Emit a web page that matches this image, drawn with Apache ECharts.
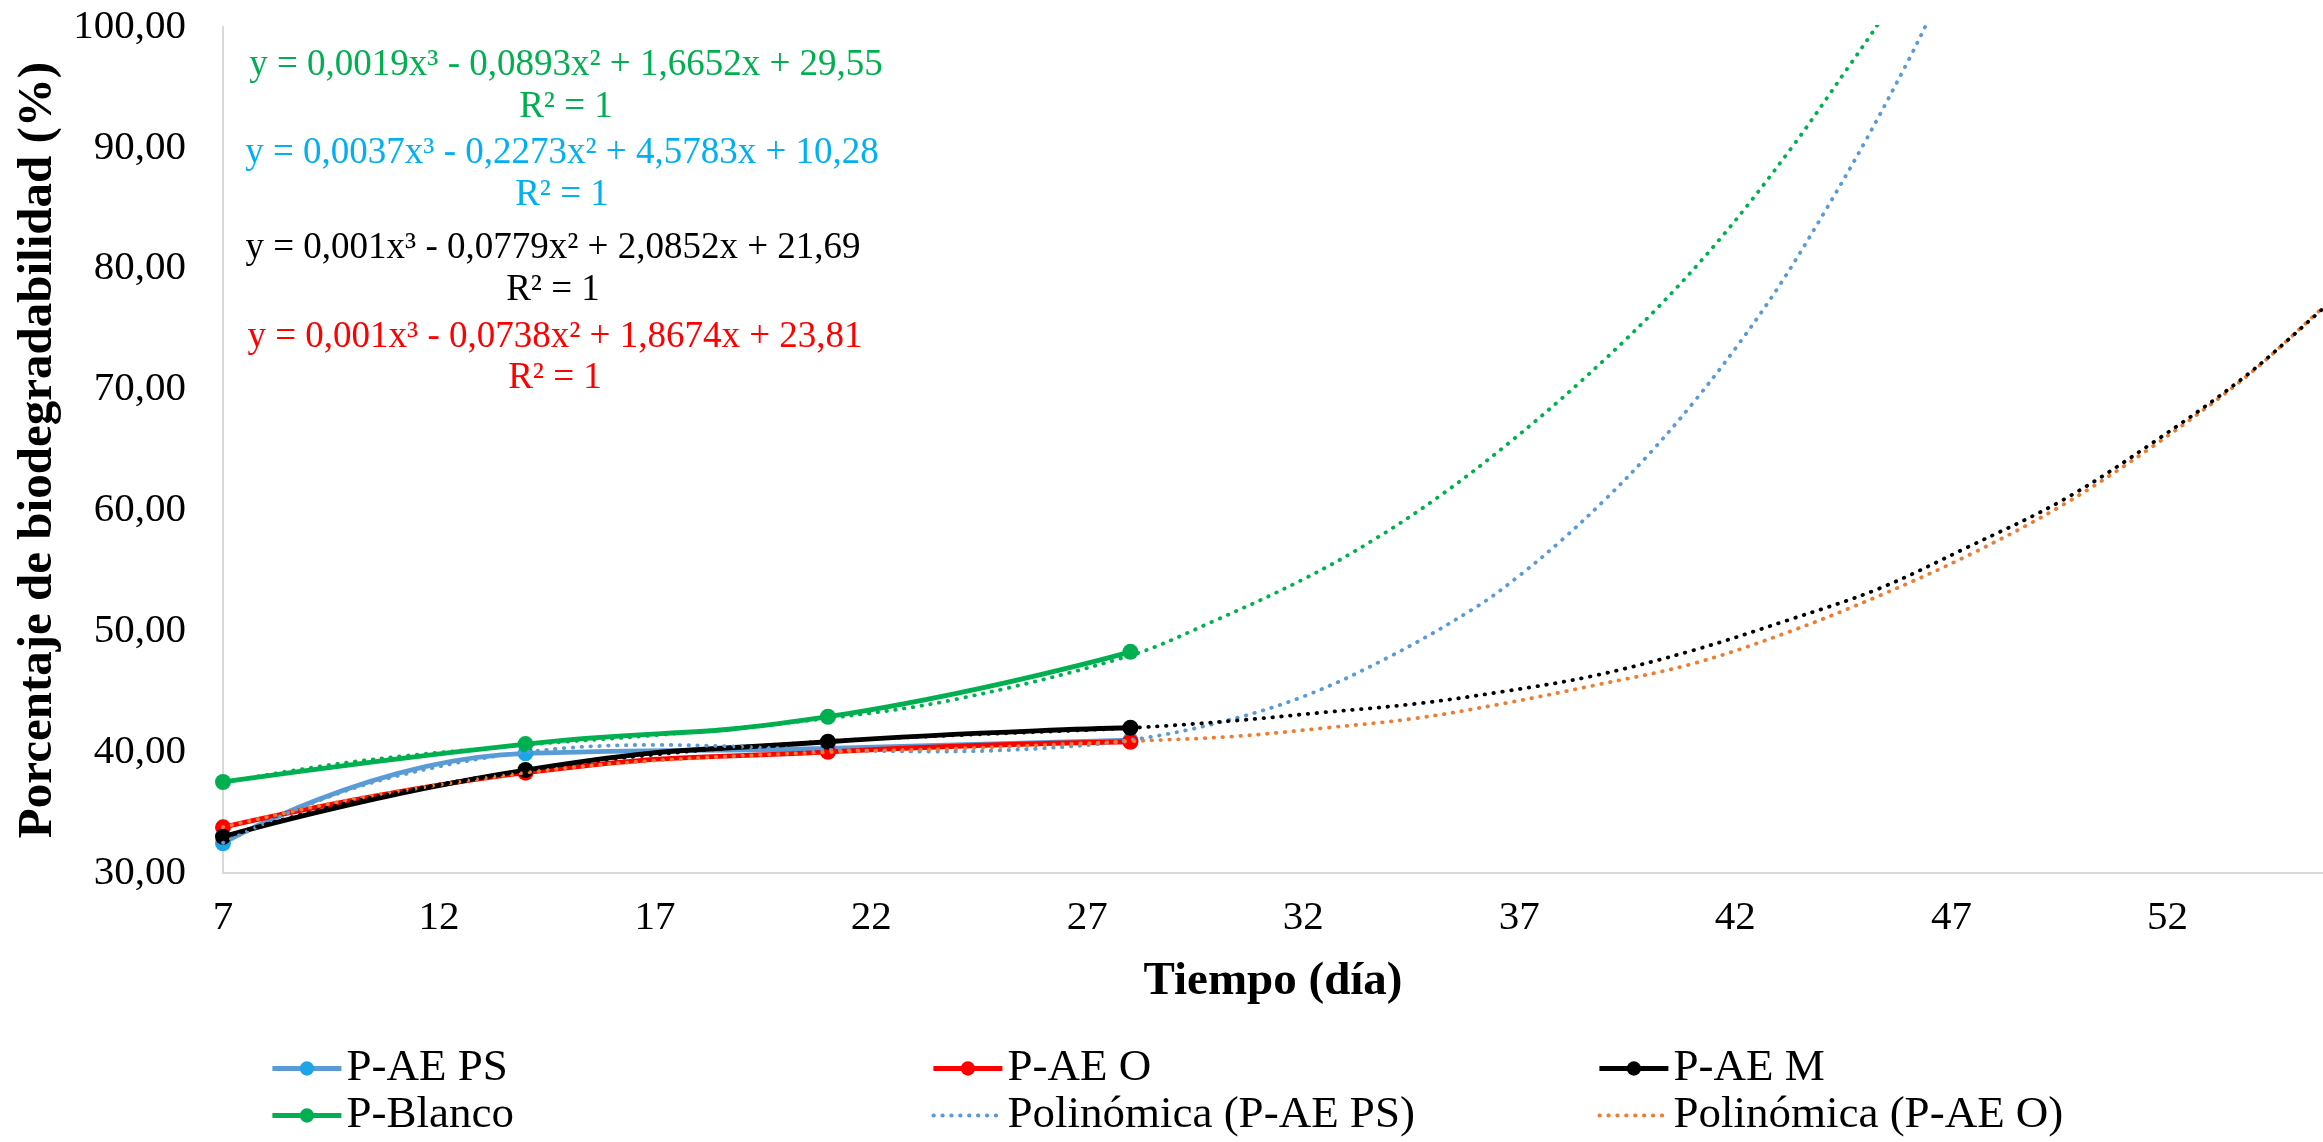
<!DOCTYPE html>
<html>
<head>
<meta charset="utf-8">
<title>Porcentaje de biodegradabilidad</title>
<script src="https://cdn.jsdelivr.net/npm/echarts@6/dist/echarts.min.js"></script>
<style>
  html, body { margin: 0; padding: 0; background: #ffffff; }
  #chart { width: 2323px; height: 1142px; }
</style>
</head>
<body>
<div id="chart"></div>
<script>
// Measured days and biodegradability (%) for each sample
const days = [7, 14, 21, 28];
const paePS = [32.46, 39.9, 40.3, 41.0];
const paeO = [33.78, 38.3, 40.03, 40.86];
const paeM = [33.0, 38.52, 40.86, 42.02];
const pBlanco = [37.53, 40.67, 42.93, 48.3];

// Polynomial (order 3) trendlines, extended forward in time
const trendPSX = [7, 9, 11, 14, 17, 21, 23.5, 25.9, 28, 30, 32, 34, 36, 37, 38, 39, 40, 41, 42, 43, 44, 45, 46, 46.5, 47];
const trendPSY = [32.5, 35.7, 38.0, 40.0, 40.6, 40.2, 40.05, 40.3, 41.0, 42.4, 44.6, 47.9, 52.0, 54.6, 57.6, 60.95, 64.65, 68.8, 73.4, 78.5, 84.3, 90.5, 97.2, 100.8, 104.5];

const trendOX = [7, 10, 14, 17, 21, 24, 28, 30.4, 32.5, 34.6, 36.6, 38.7, 41.0, 43.2, 45.3, 47.4, 49.6, 51.7, 53.8, 55.6, 56];
const trendOY = [33.8, 36.1, 38.3, 39.3, 40.0, 40.3, 40.9, 41.3, 42.0, 42.8, 44.0, 45.5, 47.3, 49.9, 52.9, 56.3, 60.5, 65.4, 71.0, 76.8, 78.1];

const trendMX = [7, 10, 14, 17, 21, 24, 28, 30.4, 32.5, 34.6, 36.6, 38.7, 41.0, 43.2, 45.3, 47.4, 49.6, 51.7, 53.8, 55.6, 56];
const trendMY = [33.0, 35.9, 38.5, 39.8, 40.9, 41.4, 42.0, 42.6, 43.3, 44.0, 45.0, 46.3, 48.4, 50.9, 53.5, 57.0, 60.9, 65.7, 71.1, 76.7, 78.0];

const trendBlancoX = [7, 10, 14, 17, 21, 24, 28, 29.9, 32.0, 33.6, 35.2, 36.8, 38.4, 40.1, 41.7, 43.3, 44.6, 45.2, 45.6];
const trendBlancoY = [37.5, 39.2, 40.6, 41.4, 42.8, 44.4, 48.0, 50.8, 54.3, 57.5, 61.3, 65.7, 70.6, 76.4, 82.7, 90.0, 96.6, 99.7, 101.9];

// Trendline equations as printed on the chart
const equationLabels = [
  'y = 0,0019x³ - 0,0893x² + 1,6652x + 29,55',
  'y = 0,0037x³ - 0,2273x² + 4,5783x + 10,28',
  'y = 0,001x³ - 0,0779x² + 2,0852x + 21,69',
  'y = 0,001x³ - 0,0738x² + 1,8674x + 23,81'
];
const r2Label = 'R² = 1';

const FONT = 'Liberation Serif';
const pairs = (xs, ys) => xs.map((x, i) => [x, ys[i]]);

function dataSeries(name, values, lineColor, markerColor) {
  return {
    name: name,
    type: 'line',
    data: pairs(days, values),
    smooth: 0.5,
    symbol: 'circle',
    symbolSize: 16,
    showSymbol: true,
    lineStyle: { color: lineColor, width: 4.8 },
    itemStyle: { color: markerColor, borderColor: markerColor, borderWidth: 0 },
    z: 2
  };
}

function trendSeries(name, xs, ys, color) {
  return {
    name: name,
    type: 'line',
    data: pairs(xs, ys),
    smooth: 0.35,
    symbol: 'none',
    showSymbol: false,
    clip: true,
    lineStyle: { color: color, width: 3.8, type: [0.5, 8.4], cap: 'round' },
    itemStyle: { color: color },
    z: 3
  };
}

// Trendline legend entries show only the dotted line, without a marker
const trendLegendItem = name => ({ name: name, itemStyle: { opacity: 0 } });

const legendCommon = {
  orient: 'vertical',
  top: 1046,
  padding: 0,
  itemWidth: 69,
  itemHeight: 18,
  itemGap: 2,
  selectedMode: false,
  lineStyle: { width: 'inherit' },
  textStyle: { fontSize: 45, color: '#000000', fontFamily: FONT }
};

const eqColors = ['#00B050', '#00B0F0', '#000000', '#FF0000'];
const eqCenters = [[566, 65, 107], [562, 153, 195], [553, 248, 290], [555, 337, 378]];
const eqGraphics = [];
equationLabels.forEach((txt, i) => {
  const c = eqCenters[i];
  eqGraphics.push({
    type: 'text', x: c[0], y: c[1], z: 10,
    style: { text: txt, fill: eqColors[i], font: '37px "' + FONT + '"', align: 'center', verticalAlign: 'middle' }
  });
  eqGraphics.push({
    type: 'text', x: c[0], y: c[2], z: 10,
    style: { text: r2Label, fill: eqColors[i], font: '37px "' + FONT + '"', align: 'center', verticalAlign: 'middle' }
  });
});

const chart = echarts.init(document.getElementById('chart'), null, { renderer: 'canvas' });
chart.setOption({
  animation: false,
  backgroundColor: '#ffffff',
  textStyle: { fontFamily: FONT },
  grid: { left: 223, right: 0, top: 27, bottom: 269, containLabel: false },
  xAxis: {
    type: 'value',
    min: 7,
    max: 55.6,
    interval: 5,
    name: 'Tiempo (día)',
    nameLocation: 'middle',
    nameGap: 85,
    nameTextStyle: { fontSize: 47, fontWeight: 'bold', color: '#000000', fontFamily: FONT },
    axisLine: { show: true, onZero: false, lineStyle: { color: '#D9D9D9', width: 2 } },
    axisTick: { show: false },
    splitLine: { show: false },
    axisLabel: { fontSize: 41, color: '#000000', margin: 25, showMaxLabel: false, fontFamily: FONT }
  },
  yAxis: {
    type: 'value',
    min: 30,
    max: 100,
    interval: 10,
    name: 'Porcentaje de biodegradabilidad (%)',
    nameLocation: 'middle',
    nameGap: 157,
    nameRotate: 90,
    nameTextStyle: { fontSize: 49, fontWeight: 'bold', color: '#000000', fontFamily: FONT },
    axisLine: { show: true, lineStyle: { color: '#D9D9D9', width: 2 } },
    axisTick: { show: false },
    splitLine: { show: false },
    axisLabel: {
      fontSize: 41, color: '#000000', margin: 37, fontFamily: FONT,
      formatter: v => v.toFixed(2).replace('.', ',')
    }
  },
  legend: [
    Object.assign({ left: 270, data: ['P-AE PS', 'P-Blanco'] }, legendCommon),
    Object.assign({ left: 931, data: ['P-AE O', trendLegendItem('Polinómica (P-AE PS)')] }, legendCommon),
    Object.assign({ left: 1597, data: ['P-AE M', trendLegendItem('Polinómica (P-AE O)')] }, legendCommon)
  ],
  series: [
    dataSeries('P-AE PS', paePS, '#5B9BD5', '#1FA5E6'),
    dataSeries('P-AE O', paeO, '#FF0000', '#FF0000'),
    dataSeries('P-AE M', paeM, '#000000', '#000000'),
    dataSeries('P-Blanco', pBlanco, '#00B050', '#00B050'),
    trendSeries('Polinómica (P-AE PS)', trendPSX, trendPSY, '#5B9BD5'),
    trendSeries('Polinómica (P-AE O)', trendOX, trendOY, '#ED7D31'),
    trendSeries('Polinómica (P-AE M)', trendMX, trendMY, '#000000'),
    trendSeries('Polinómica (P-Blanco)', trendBlancoX, trendBlancoY, '#00B050')
  ],
  graphic: eqGraphics
});
</script>
</body>
</html>
